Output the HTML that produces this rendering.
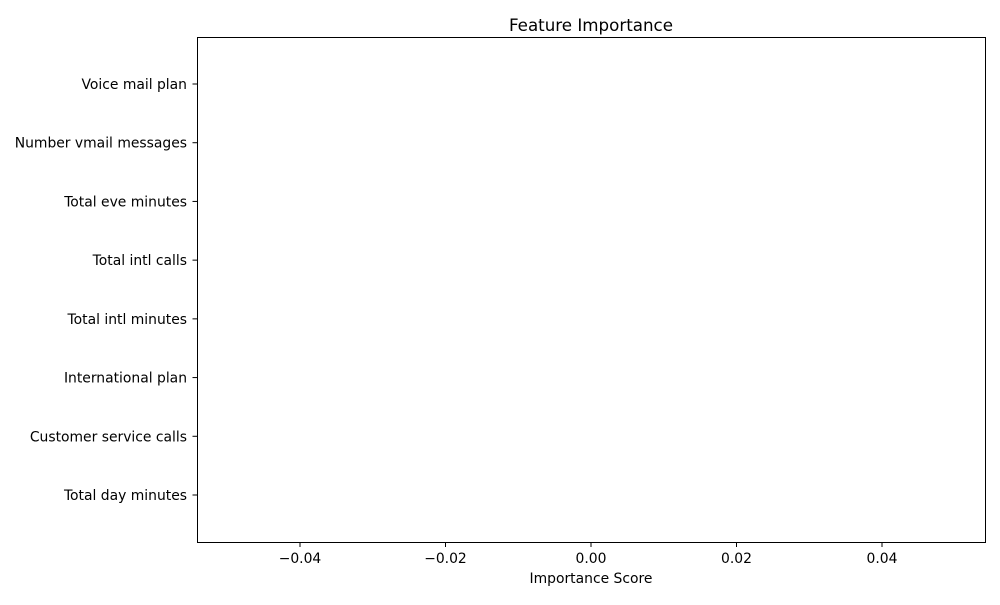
<!DOCTYPE html>
<html><head><meta charset="utf-8"><style>
body{margin:0;background:#fff;}
svg text{font-family:"DejaVu Sans","Liberation Sans",sans-serif;fill:#000;}
</style></head><body>
<svg id="chart" width="1000" height="600" xmlns="http://www.w3.org/2000/svg">
<rect width="1000" height="600" fill="#fff"/>
<text x="591" y="31" font-size="16.7" text-anchor="middle">Feature Importance</text>
<text x="591" y="583" font-size="13.9" text-anchor="middle">Importance Score</text>
<g id="bars"></g>
<g id="xticks"></g>
<g id="yticks"></g>
<rect x="197.5" y="37.5" width="788" height="505" fill="none" stroke="#000" stroke-width="1"/>
</svg>
<script>
const features = ["Total day minutes","Customer service calls","International plan","Total intl minutes","Total intl calls","Total eve minutes","Number vmail messages","Voice mail plan"];
const importances = [0,0,0,0,0,0,0,0];
const xTickValues = [-0.04,-0.02,0,0.02,0.04];
const xTickLabels = ["\u22120.04","\u22120.02","0.00","0.02","0.04"];

const ns="http://www.w3.org/2000/svg";
function xScale(v){return 591 + v*(882-591)/0.04;}
function yScale(i){return 495 - i*(495-84)/7;}
function mk(tag,attrs){const e=document.createElementNS(ns,tag);for(const k in attrs)e.setAttribute(k,attrs[k]);return e;}

const bars=document.getElementById('bars');
importances.forEach((v,i)=>{
  const x0=xScale(0), x1=xScale(v);
  const r=mk('rect',{x:Math.min(x0,x1),y:yScale(i)-23,width:Math.abs(x1-x0),height:46,fill:'#1f77b4'});
  
  
  bars.appendChild(r);
});

const xt=document.getElementById('xticks');
xTickValues.forEach((v,i)=>{
  const x=xScale(v);
  const l=mk('line',{x1:x,x2:x,y1:542.5,y2:547,stroke:'#000'});
  
  
  xt.appendChild(l);
  const t=mk('text',{x:x,y:563,'font-size':13.9,'text-anchor':'middle'});
  t.textContent=xTickLabels[i];
  
  
  xt.appendChild(t);
});

const yt=document.getElementById('yticks');
features.forEach((f,i)=>{
  const y=yScale(i);
  const l=mk('line',{x1:192.5,x2:197.5,y1:y,y2:y,stroke:'#000'});
  
  
  yt.appendChild(l);
  const t=mk('text',{x:187,y:y+5,'font-size':13.9,'text-anchor':'end'});
  t.textContent=f;
  
  
  yt.appendChild(t);
});
</script>
</body></html>
